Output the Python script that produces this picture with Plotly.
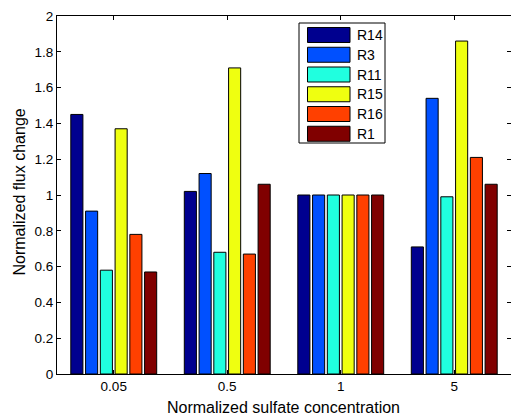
import plotly.graph_objects as go

categories = ["0.05", "0.5", "1", "5"]
series_names = ["R14", "R3", "R11", "R15", "R16", "R1"]
R14 = [1.45, 1.02, 1.00, 0.71]
R3 = [0.91, 1.12, 1.00, 1.54]
R11 = [0.58, 0.68, 1.00, 0.99]
R15 = [1.37, 1.71, 1.00, 1.86]
R16 = [0.78, 0.67, 1.00, 1.21]
R1 = [0.57, 1.06, 1.00, 1.06]
series_values = [R14, R3, R11, R15, R16, R1]
colors = ["#00008F", "#0050FF", "#20FFDF", "#EFFF10", "#FF4000", "#800000"]
y_ticks = [0, 0.2, 0.4, 0.6, 0.8, 1, 1.2, 1.4, 1.6, 1.8, 2]
x_title = "Normalized sulfate concentration"
y_title = "Normalized flux change"

FONT = "Arial, Liberation Sans, sans-serif"
W, H = 511, 415
ML, MR, MT, MB = 57, 0, 16, 41
PW, PH = W - ML - MR, H - MT - MB

xpos = list(range(1, len(categories) + 1))

fig = go.Figure()
for name, vals, col in zip(series_names, series_values, colors):
    fig.add_trace(go.Bar(
        x=xpos, y=vals, name=name,
        marker=dict(color=col, line=dict(color="black", width=1)),
        showlegend=False,
    ))

# invisible trace for right-side tick axis
fig.add_trace(go.Scatter(x=[1], y=[0], yaxis="y2", mode="markers",
                         marker=dict(opacity=0), showlegend=False, hoverinfo="skip"))

def px2paper_x(px):
    return (px - ML) / PW

def px2paper_y(py):
    return (H - MB - py) / PH

shapes = []
annotations = []
# legend box
shapes.append(dict(type="rect", xref="paper", yref="paper",
                   x0=px2paper_x(299), x1=px2paper_x(385),
                   y0=px2paper_y(143), y1=px2paper_y(23),
                   line=dict(color="black", width=1), fillcolor="white", layer="above"))
for i, (name, col) in enumerate(zip(series_names, colors)):
    top = 27.5 + i * 19.75
    shapes.append(dict(type="rect", xref="paper", yref="paper",
                       x0=px2paper_x(307.5), x1=px2paper_x(350),
                       y0=px2paper_y(top + 15), y1=px2paper_y(top),
                       line=dict(color="black", width=1), fillcolor=col, layer="above"))
    annotations.append(dict(xref="paper", yref="paper", x=px2paper_x(354.5),
                            y=px2paper_y(top + 7.5), text=name, showarrow=False,
                            xanchor="left", yanchor="middle",
                            font=dict(family=FONT, size=14, color="black")))

# axis titles
annotations.append(dict(xref="paper", yref="paper", x=px2paper_x(283), y=px2paper_y(407),
                        text=x_title, showarrow=False, xanchor="center", yanchor="middle",
                        font=dict(family=FONT, size=16, color="black")))
annotations.append(dict(xref="paper", yref="paper", x=px2paper_x(18.5), y=px2paper_y(192),
                        text=y_title, showarrow=False, xanchor="center", yanchor="middle",
                        textangle=-90, font=dict(family=FONT, size=16, color="black")))

fig.update_layout(
    width=W, height=H,
    margin=dict(l=ML, r=MR, t=MT, b=MB, pad=0, autoexpand=False),
    paper_bgcolor="white", plot_bgcolor="white",
    barmode="group", bargap=0.22, bargroupgap=0.18,
    font=dict(family=FONT, size=13.5, color="black"),
    hovermode=False,
    xaxis=dict(
        range=[0.5, len(categories) + 0.5], automargin=False,
        tickmode="array", tickvals=xpos, ticktext=categories,
        ticks="inside", ticklen=4, tickcolor="black",
        showline=True, linecolor="black", linewidth=1, mirror="ticks",
        showgrid=False, zeroline=False,
        tickfont=dict(size=13.5),
    ),
    yaxis=dict(
        range=[0, 2], automargin=False,
        tickmode="array", tickvals=y_ticks,
        ticks="inside", ticklen=4, tickcolor="black",
        showline=True, linecolor="black", linewidth=1, mirror=False,
        showgrid=False, zeroline=False,
        tickfont=dict(size=13.5),
    ),
    yaxis2=dict(
        range=[0, 2], overlaying="y", side="right", automargin=False,
        tickmode="array", tickvals=y_ticks,
        ticks="inside", ticklen=4, tickcolor="black",
        showticklabels=False, showline=False, showgrid=False, zeroline=False,
    ),
    shapes=shapes,
    annotations=annotations,
)

fig.write_html(
    "out.html",
    config={"displayModeBar": False, "staticPlot": True},
    post_script="document.body.style.margin='0';document.body.style.overflow='hidden';",
)
